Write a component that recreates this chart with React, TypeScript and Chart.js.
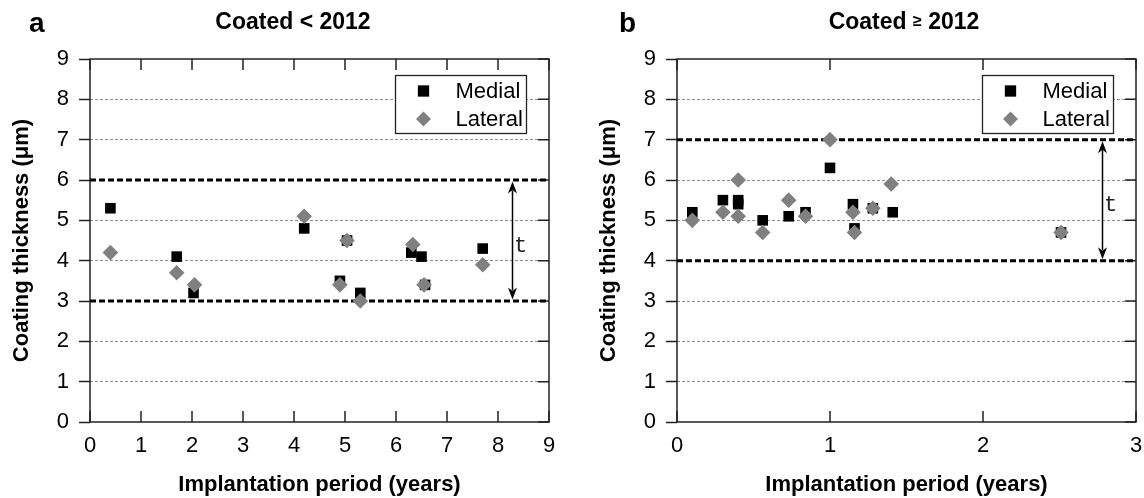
import React, { useEffect, useRef } from "react";
import { Chart, registerables } from "chart.js";

Chart.register(...registerables);

const SANS = "'Liberation Sans', Arial, Helvetica, sans-serif";
const MONO = "'Liberation Mono', 'Courier New', monospace";

// ---------- Panel a : Coated < 2012 ----------
const aMedialX = [0.4, 1.7, 2.03, 4.2, 5.04, 4.9, 5.3, 6.3, 6.5, 6.57, 7.7];
const aMedialY = [5.3, 4.1, 3.2, 4.8, 4.5, 3.5, 3.2, 4.2, 4.1, 3.4, 4.3];
const aLateralX = [0.4, 1.7, 2.05, 4.2, 5.04, 4.9, 5.3, 6.33, 6.55, 7.7];
const aLateralY = [4.2, 3.7, 3.4, 5.1, 4.5, 3.4, 3.0, 4.4, 3.4, 3.9];
const aLimits = [3, 6];
const aXMax = 9;
const aArrowX = 8.28;

// ---------- Panel b : Coated >= 2012 ----------
const bMedialX = [0.1, 0.3, 0.4, 0.4, 0.56, 0.73, 0.84, 1.0, 1.15, 1.16, 1.28, 1.41, 2.51];
const bMedialY = [5.2, 5.5, 5.5, 5.4, 5.0, 5.1, 5.2, 6.3, 5.4, 4.8, 5.3, 5.2, 4.7];
const bLateralX = [0.1, 0.3, 0.4, 0.4, 0.56, 0.73, 0.84, 1.0, 1.15, 1.16, 1.28, 1.4, 2.51];
const bLateralY = [5.0, 5.2, 6.0, 5.1, 4.7, 5.5, 5.1, 7.0, 5.2, 4.7, 5.3, 5.9, 4.7];
const bLimits = [4, 7];
const bXMax = 3;
const bArrowX = 2.78;

const yMin = 0;
const yMax = 9;
const seriesNames = ["Medial", "Lateral"];
const yTitle = "Coating thickness (\u03bcm)";
const xTitle = "Implantation period (years)";
const arrowLabel = "t";

const FRAME = "#222222";
const GRID = "#8f8f8f";
const MEDIAL_COLOR = "#000000";
const LATERAL_COLOR = "#808080";
const TICK = 11;
const MARKER_R = 7.5;

type Part = { t: string; size: number; dy: number };

type PanelProps = {
  left: number;
  medialX: number[];
  medialY: number[];
  lateralX: number[];
  lateralY: number[];
  limits: number[];
  xMax: number;
  arrowX: number;
  letter: string;
  letterX: number;
  titleParts: Part[];
  titleCX: number;
  yAxisWidth: number;
  yTitlePad: number;
  rightPad: number;
};

function drawSquare(ctx: CanvasRenderingContext2D, x: number, y: number, r: number) {
  const s = Math.SQRT1_2 * r;
  ctx.fillRect(x - s, y - s, 2 * s, 2 * s);
}
function drawDiamond(ctx: CanvasRenderingContext2D, x: number, y: number, r: number) {
  ctx.beginPath();
  ctx.moveTo(x - r, y);
  ctx.lineTo(x, y - r);
  ctx.lineTo(x + r, y);
  ctx.lineTo(x, y + r);
  ctx.closePath();
  ctx.fill();
}

function Panel(p: PanelProps) {
  const ref = useRef<HTMLCanvasElement | null>(null);
  useEffect(() => {
    if (!ref.current) return;
    const pts = (xs: number[], ys: number[]) => xs.map((x, i) => ({ x, y: ys[i] }));

    const decor = {
      id: "decor",
      beforeDatasetsDraw(chart: any) {
        const { ctx, chartArea: ca, scales } = chart;
        const x = scales.x;
        const y = scales.y;
        ctx.save();
        ctx.strokeStyle = FRAME;
        ctx.lineWidth = 1.5;
        ctx.beginPath();
        x.ticks.forEach((t: any) => {
          const px = x.getPixelForValue(t.value);
          ctx.moveTo(px, ca.top);
          ctx.lineTo(px, ca.top + TICK);
          ctx.moveTo(px, ca.bottom);
          ctx.lineTo(px, ca.bottom - TICK);
        });
        y.ticks.forEach((t: any) => {
          const py = y.getPixelForValue(t.value);
          ctx.moveTo(ca.right, py);
          ctx.lineTo(ca.right - TICK, py);
        });
        ctx.stroke();
        ctx.strokeRect(ca.left, ca.top, ca.right - ca.left, ca.bottom - ca.top);
        ctx.restore();
      },
      afterDatasetsDraw(chart: any) {
        const { ctx, chartArea: ca, scales } = chart;
        const x = scales.x;
        const y = scales.y;
        ctx.save();
        // double arrow between limits
        const ax = Math.round(x.getPixelForValue(p.arrowX)) + 0.5;
        const lo = Math.min(...p.limits);
        const hi = Math.max(...p.limits);
        const yTop = y.getPixelForValue(hi) + 1.5;
        const yBot = y.getPixelForValue(lo) - 1.5;
        const hl = 12;
        const hw = 4.5;
        ctx.strokeStyle = "#000";
        ctx.fillStyle = "#000";
        ctx.lineWidth = 1.5;
        ctx.beginPath();
        ctx.moveTo(ax, yTop + hl - 3);
        ctx.lineTo(ax, yBot - hl + 3);
        ctx.stroke();
        ctx.beginPath();
        ctx.moveTo(ax, yTop);
        ctx.lineTo(ax + hw, yTop + hl);
        ctx.lineTo(ax, yTop + hl - 3.5);
        ctx.lineTo(ax - hw, yTop + hl);
        ctx.closePath();
        ctx.fill();
        ctx.beginPath();
        ctx.moveTo(ax, yBot);
        ctx.lineTo(ax + hw, yBot - hl);
        ctx.lineTo(ax, yBot - hl + 3.5);
        ctx.lineTo(ax - hw, yBot - hl);
        ctx.closePath();
        ctx.fill();
        // t label
        ctx.font = `22px ${MONO}`;
        ctx.textAlign = "center";
        ctx.textBaseline = "alphabetic";
        ctx.fillStyle = "#222";
        ctx.fillText(arrowLabel, ax + 8, y.getPixelForValue((lo + hi) / 2) + 11);

        // legend box
        const lw = 131;
        const lh = 58;
        const lx = Math.round(ca.right - 23 - lw) + 0.5;
        const ly = Math.round(ca.top + 16) + 0.5;
        ctx.fillStyle = "#fff";
        ctx.fillRect(lx, ly, lw, lh);
        ctx.strokeStyle = FRAME;
        ctx.lineWidth = 1.3;
        ctx.strokeRect(lx, ly, lw, lh);
        const mx = lx + 28;
        const r1 = ly + 15.5;
        const r2 = ly + 43.5;
        ctx.fillStyle = MEDIAL_COLOR;
        drawSquare(ctx, mx, r1, MARKER_R + 0.5);
        ctx.fillStyle = LATERAL_COLOR;
        drawDiamond(ctx, mx, r2, MARKER_R);
        ctx.fillStyle = "#000";
        ctx.font = `22px ${SANS}`;
        ctx.textAlign = "left";
        ctx.textBaseline = "middle";
        ctx.fillText(seriesNames[0], lx + 60, r1 + 1);
        ctx.fillText(seriesNames[1], lx + 60, r2 + 1);
        ctx.restore();
      },
      afterDraw(chart: any) {
        const { ctx } = chart;
        ctx.save();
        ctx.fillStyle = "#000";
        ctx.textBaseline = "alphabetic";
        ctx.textAlign = "left";
        ctx.font = `bold 28px ${SANS}`;
        ctx.fillText(p.letter, p.letterX, 31.5);
        let total = 0;
        p.titleParts.forEach((part) => {
          ctx.font = `bold ${part.size}px ${SANS}`;
          total += ctx.measureText(part.t).width;
        });
        let cx = p.titleCX - total / 2;
        p.titleParts.forEach((part) => {
          ctx.font = `bold ${part.size}px ${SANS}`;
          ctx.fillText(part.t, cx, 29 + part.dy);
          cx += ctx.measureText(part.t).width;
        });
        ctx.restore();
      },
    };

    const limitSets = p.limits.map((v) => ({
      type: "line" as const,
      label: "limit " + v,
      data: [
        { x: 0, y: v },
        { x: p.xMax, y: v },
      ],
      borderColor: "#000",
      borderWidth: 3,
      borderDash: [6, 3],
      pointRadius: 0,
      fill: false,
      order: 3,
      clip: 0,
    }));

    const chart = new Chart(ref.current, {
      type: "scatter",
      data: {
        datasets: [
          {
            label: seriesNames[0],
            data: pts(p.medialX, p.medialY),
            pointStyle: "rect",
            pointRadius: MARKER_R,
            backgroundColor: MEDIAL_COLOR,
            borderWidth: 0,
            order: 2,
          },
          {
            label: seriesNames[1],
            data: pts(p.lateralX, p.lateralY),
            pointStyle: "rectRot",
            pointRadius: MARKER_R + 0.3,
            backgroundColor: LATERAL_COLOR,
            borderWidth: 0,
            order: 1,
          },
          ...limitSets,
        ] as any,
      },
      options: {
        animation: false,
        responsive: false,
        events: [],
        layout: { padding: { left: 0, top: 59, right: p.rightPad, bottom: 0 } },
        plugins: {
          legend: { display: false },
          tooltip: { enabled: false },
          title: { display: false },
        },
        scales: {
          x: {
            type: "linear",
            min: 0,
            max: p.xMax,
            grid: { display: false, drawTicks: false },
            border: { display: false },
            ticks: {
              stepSize: 1,
              padding: 11,
              color: "#000",
              font: { family: SANS, size: 22 },
            },
            title: {
              display: true,
              text: xTitle,
              color: "#000",
              font: { family: SANS, size: 22, weight: "bold" },
              padding: { top: 0, bottom: 0 },
            },
            afterFit: (s: any) => {
              s.height = 76;
              s.paddingLeft = 0;
              s.paddingRight = 0;
            },
          },
          y: {
            type: "linear",
            min: yMin,
            max: yMax,
            grid: {
              color: (c: any) =>
                c.tick && (p.limits.includes(c.tick.value) || c.tick.value === yMin || c.tick.value === yMax)
                  ? "rgba(0,0,0,0)"
                  : GRID,
              lineWidth: 1,
              drawTicks: true,
              tickLength: TICK,
              tickColor: FRAME,
              tickWidth: 1.5,
              tickBorderDash: [],
            },
            border: { display: false, dash: [3, 2] },
            ticks: {
              stepSize: 1,
              padding: 10,
              color: "#000",
              font: { family: SANS, size: 22 },
            },
            title: {
              display: true,
              text: yTitle,
              color: "#000",
              font: { family: SANS, size: 22, weight: "bold" },
              padding: { top: p.yTitlePad, bottom: 0 },
            },
            afterFit: (s: any) => {
              s.width = p.yAxisWidth;
              s.paddingTop = 0;
              s.paddingBottom = 0;
            },
          },
        },
      } as any,
      plugins: [decor],
    });
    return () => chart.destroy();
  }, []);

  return (
    <canvas
      ref={ref}
      width={572}
      height={498}
      style={{ position: "absolute", left: p.left, top: 0, width: 572, height: 498 }}
    />
  );
}

export default function App() {
  return (
    <div
      style={{
        position: "absolute",
        left: 0,
        top: 0,
        width: 1144,
        height: 498,
        overflow: "hidden",
        background: "#fff",
      }}
    >
      <Panel
        left={0}
        medialX={aMedialX}
        medialY={aMedialY}
        lateralX={aLateralX}
        lateralY={aLateralY}
        limits={aLimits}
        xMax={aXMax}
        arrowX={aArrowX}
        letter="a"
        letterX={29}
        titleParts={[{ t: "Coated < 2012", size: 23, dy: 0 }]}
        titleCX={293}
        yAxisWidth={90}
        yTitlePad={9}
        rightPad={23}
      />
      <Panel
        left={572}
        medialX={bMedialX}
        medialY={bMedialY}
        lateralX={bLateralX}
        lateralY={bLateralY}
        limits={bLimits}
        xMax={bXMax}
        arrowX={bArrowX}
        letter="b"
        letterX={47}
        titleParts={[
          { t: "Coated ", size: 23, dy: 0 },
          { t: "\u2265", size: 16, dy: -3 },
          { t: " 2012", size: 23, dy: 0 },
        ]}
        titleCX={332}
        yAxisWidth={105}
        yTitlePad={24}
        rightPad={8}
      />
    </div>
  );
}
